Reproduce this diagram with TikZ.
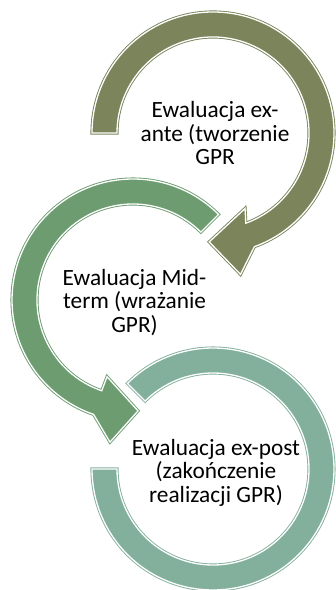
\documentclass[tikz,border=0pt]{standalone}
\usepackage{fontspec}
\setmainfont{Carlito}
\definecolor{olivec}{RGB}{123,132,91}
\definecolor{greenc}{RGB}{108,156,112}
\definecolor{tealc}{RGB}{131,176,157}
\tikzset{
  arrowshape/.style={fill=#1, draw=#1, double=white, double distance=1.3pt, line width=0.9pt, line join=miter},
  label/.style={align=center, font=\fontsize{23.3}{23.5}\selectfont, text=black, inner sep=0pt}
}
\begin{document}
\begin{tikzpicture}[x=1pt,y=1pt]
\useasboundingbox (0,0) rectangle (336,590);
% arrow 1 (top, olive)
\begin{scope}[shift={(213pt,457pt)}]
\path[arrowshape=olivec] (180:121pt) arc[start angle=180, end angle=-70, radius=121pt]
  -- (-79:144pt) -- (-92:109pt) -- (-67:82pt) -- (-70:96pt)
  arc[start angle=-70, end angle=180, radius=96pt] -- cycle;
\end{scope}
% arrow 2 (middle, green)
\begin{scope}[shift={(133pt,290pt)}]
\path[arrowshape=greenc] (45:121pt) arc[start angle=45, end angle=251, radius=121pt]
  -- (260.8:144pt) -- (272.6:111pt) -- (251.3:81pt) -- (251:96pt)
  arc[start angle=251, end angle=45, radius=96pt] -- cycle;
\end{scope}
% arrow 3 (bottom, teal)
\begin{scope}[shift={(213pt,121pt)}]
\path[arrowshape=tealc] (135:121pt) arc[start angle=135, end angle=-180, radius=121pt]
  -- (180:96pt) arc[start angle=180, end angle=495, radius=96pt] -- cycle;
\end{scope}
\node[label] (t1) at (215,456.6) {Ewaluacja ex-\\ante (tworzenie\\GPR};
\node[label] (t2) at (134.5,287.5) {Ewaluacja Mid-\\term (wrażanie\\GPR)};
\node[label] (t3) at (216,117.3) {Ewaluacja ex-post\\(zakończenie\\realizacji GPR)};
\end{tikzpicture}
\end{document}
